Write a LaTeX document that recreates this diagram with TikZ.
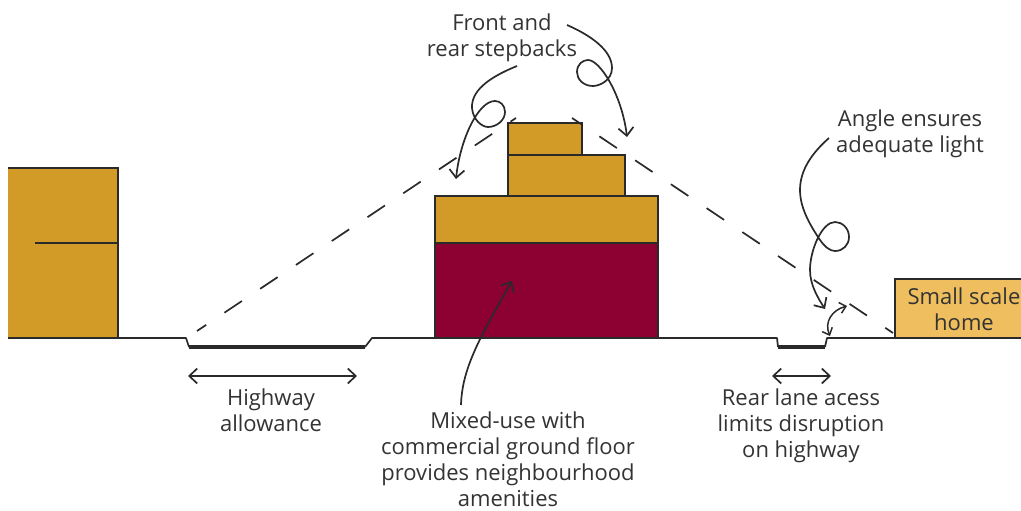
\documentclass[tikz,border=0pt]{standalone}
\usepackage{fontspec}
\setmainfont{Open Sans}
\usetikzlibrary{arrows.meta}
\definecolor{ink}{HTML}{2A2A2A}
\definecolor{txt}{HTML}{333333}
\definecolor{gold}{HTML}{D29B27}
\definecolor{wine}{HTML}{8C0032}
\definecolor{pale}{HTML}{EFBE5E}
\tikzset{
 x=1pt,y=-1pt,
 block/.style={draw=ink,line width=2pt,line join=miter},
 sightline/.style={draw=ink,line width=1.7pt,dash pattern=on 21pt off 22pt,dash phase=10pt},
 ground/.style={draw=ink,line width=1.7pt,line join=round},
 bed/.style={draw=ink,line width=3.1pt},
 curvearrow/.style={draw=ink,line width=1.7pt,-{Straight Barb[length=8pt,width=15pt,line width=1.7pt]}},
 dimarrow/.style={draw=ink,line width=1.7pt,{Straight Barb[length=8pt,width=15pt,line width=1.7pt]}-{Straight Barb[length=8pt,width=15pt,line width=1.7pt]}},
 anglearrow/.style={draw=ink,line width=1.5pt,{Straight Barb[length=6pt,width=11pt,line width=1.5pt]}-{Straight Barb[length=6pt,width=11pt,line width=1.5pt]}},
 label/.style={text=txt,font=\fontsize{22}{26}\selectfont,align=center,inner sep=0pt,anchor=center},
}
\begin{document}
\begin{tikzpicture}
\useasboundingbox (0,0) rectangle (1021,511);
% blocks
\fill[gold] (8,168) rectangle (118,338);
\draw[block] (8,168) -- (118,168) -- (118,338) -- (8,338);
\draw[block,line width=1.7pt] (35,243) -- (118,243);
\path[block,fill=wine] (435,243) rectangle (658,338);
\path[block,fill=gold] (435,196) rectangle (658,243);
\path[block,fill=gold] (508,155) rectangle (625,196);
\path[block,fill=gold] (508,123) rectangle (582,155);
\path[block,fill=pale] (895,279) rectangle (1022,338);
% ground
\draw[ground] (118,338) -- (186,338) -- (189,347);
\draw[ground] (365,347) -- (372,338) -- (435,338);
\draw[ground] (658,338) -- (777,338) -- (778,347);
\draw[ground] (825,347) -- (827,338) -- (895,338);
\draw[bed] (189,347) -- (365,347);
\draw[bed] (778,347) -- (825,347);
% sight lines
\coordinate (sl1) at (197,331); \coordinate (sl2) at (516,118);
\coordinate (sr1) at (572,118); \coordinate (sr2) at (893,333);
\draw[sightline] (sl1) -- (sl2);
\draw[sightline] (sr1) -- (sr2);
% labels
\node[label] (front) at (502,38) {Front and\\rear stepbacks};
\node[label] (angle) at (910,134) {Angle ensures\\adequate light};
\node[label] (small) at (964,309) {Small scale\\home};
\node[label] (hwy) at (271,410.5) {Highway\\allowance};
\node[label] (rear) at (801,426) {Rear lane acess\\limits disruption\\on highway};
\node[label] (mixed) at (508,459) {Mixed-use with\\commercial ground floor\\provides neighbourhood\\amenities};
% dimension arrows
\coordinate (h1) at (188,376); \coordinate (h2) at (357,376);
\coordinate (r1) at (772,376); \coordinate (r2) at (831,376);
\draw[dimarrow] (h1) -- (h2);
\draw[dimarrow] (r1) -- (r2);
% curved arrows
\coordinate (a1) at (567,25); \coordinate (a2) at (627,137);
\draw[curvearrow] (a1) .. controls (590,35) and (612,50) .. (612,68)
  .. controls (612,80) and (600,86) .. (593,86)
  .. controls (583,86) and (577,79) .. (577,72)
  .. controls (577,64) and (583,60) .. (588,60)
  .. controls (600,60) and (622,95) .. (a2);
\coordinate (b1) at (517,66); \coordinate (b2) at (456,179);
\draw[curvearrow] (b1) .. controls (495,75) and (471,88) .. (472,108)
  .. controls (473,120) and (482,127) .. (488,127)
  .. controls (497,127) and (505,120) .. (505,112)
  .. controls (505,105) and (500,101) .. (495,101)
  .. controls (478,101) and (460,140) .. (b2);
\coordinate (c1) at (829,138); \coordinate (c2) at (825,309);
\draw[curvearrow] (c1) .. controls (812,153) and (800,170) .. (800,190)
  .. controls (800,208) and (810,225) .. (820,240)
  .. controls (825,247) and (830,251) .. (835,251)
  .. controls (843,251) and (849,245) .. (849,237)
  .. controls (849,228) and (842,222) .. (835,222)
  .. controls (822,222) and (810,250) .. (810,270)
  .. controls (810,285) and (818,298) .. (c2);
\coordinate (d1) at (461,405); \coordinate (d2) at (512,281);
\draw[curvearrow] (d1) .. controls (462,370) and (478,340) .. (d2);
\coordinate (e1) at (830,336); \coordinate (e2) at (847,306);
\draw[anglearrow] (e1) .. controls (824,322) and (832,310) .. (e2);
\end{tikzpicture}
\end{document}
